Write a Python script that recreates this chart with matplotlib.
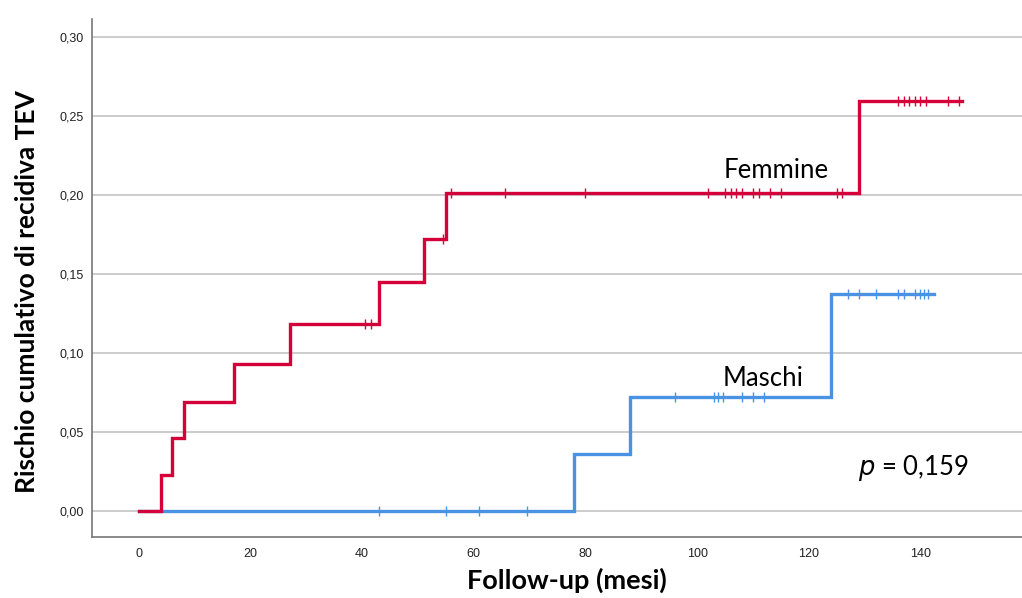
import numpy as np
import matplotlib
matplotlib.use("Agg")
import matplotlib.pyplot as plt

# Femmine: cumulative incidence step function
f_times = [0, 4, 6, 8, 17, 27, 43, 51, 55, 129]
f_risk = [0.0, 0.023, 0.046, 0.069, 0.093, 0.118, 0.145, 0.172, 0.201, 0.259]
f_end = 147.5
f_censor = [40.5, 41.5, 54.5, 56, 65.5, 80, 102, 105, 106, 107, 108, 110, 111, 113,
            115, 125, 126, 136, 137, 138, 139, 140, 141, 145, 147]

# Maschi
m_times = [0, 78, 88, 124]
m_risk = [0.0, 0.036, 0.072, 0.137]
m_end = 142.5
m_censor = [43, 55, 61, 69.5, 96, 103, 103.7, 104.6, 108, 110, 112, 127, 129, 132,
            136, 137, 139, 140, 140.7, 141.4]

y_ticks = [0.0, 0.05, 0.10, 0.15, 0.20, 0.25, 0.30]
x_ticks = [0, 20, 40, 60, 80, 100, 120, 140]

RED = "#D5003A"
BLUE = "#4A93E4"


def step_xy(times, risk, end):
    x = list(times) + [end]
    y = list(risk) + [risk[-1]]
    return np.array(x), np.array(y)


def risk_at(times, risk, t):
    idx = np.searchsorted(times, t, side="right") - 1
    return np.array(risk)[idx]


fig = plt.figure(figsize=(10.22, 5.98), dpi=100)
ax = fig.add_axes([0.090, 0.102, 0.910, 0.866])

for times, risk, end, cens, col, z in [
    (m_times, m_risk, m_end, m_censor, BLUE, 3),
    (f_times, f_risk, f_end, f_censor, RED, 4),
]:
    x, y = step_xy(times, risk, end)
    ax.step(x, y, where="post", color=col, lw=2.4, zorder=z, solid_joinstyle="miter")
    ax.plot(cens, risk_at(times, risk, cens), ls="none", marker="|", ms=6.5, mew=1.0,
            color=col, zorder=z)

ax.set_xlim(-8.4, 158.2)
ax.set_ylim(-0.0165, 0.311)
ax.set_yticks(y_ticks)
ax.set_yticklabels([f"{v:.2f}".replace(".", ",") for v in y_ticks],
                   fontfamily="Liberation Sans", fontsize=9)
ax.set_xticks(x_ticks)
ax.set_xticklabels([str(v) for v in x_ticks], fontfamily="Liberation Sans", fontsize=9)
ax.tick_params(axis="y", length=0, pad=6, colors="#222222")
ax.tick_params(axis="x", length=0, pad=8, colors="#222222")
ax.yaxis.grid(True, color="#C8C8C8", lw=1.3)
ax.set_axisbelow(True)

for s in ["top", "right"]:
    ax.spines[s].set_visible(False)
for s in ["left", "bottom"]:
    ax.spines[s].set_color("#777777")
    ax.spines[s].set_linewidth(1.2)

ax.set_ylabel("Rischio cumulativo di recidiva TEV", fontfamily="Lato",
              fontweight="bold", fontsize=19)
ax.yaxis.set_label_coords(-0.057, 0.473)
ax.set_xlabel("Follow-up (mesi)", fontfamily="Lato", fontweight="bold", fontsize=19.5)
ax.xaxis.set_label_coords(0.511, -0.060)

ax.text(104.7, 0.215, "Femmine", fontfamily="Lato", fontsize=18.5, va="center", ha="left")
ax.text(104.5, 0.084, "Maschi", fontfamily="Lato", fontsize=18.5, va="center", ha="left")
ax.text(128.8, 0.027, r"$\it{p}$ = 0,159", fontfamily="Lato", fontsize=18.5,
        va="center", ha="left")

fig.savefig("out.png", dpi=100)
